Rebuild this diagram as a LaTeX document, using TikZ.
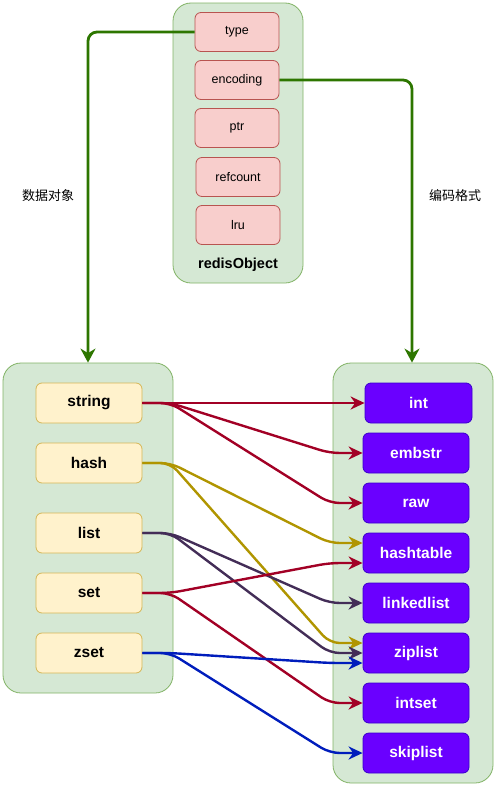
\documentclass[tikz,border=0pt]{standalone}
\usepackage{fontspec}
\setmainfont{Liberation Sans}
\newfontfamily\cjk{Noto Sans CJK SC}
\usetikzlibrary{arrows.meta}
\definecolor{contfill}{HTML}{D5E8D4}
\definecolor{contline}{HTML}{82B366}
\definecolor{pinkfill}{HTML}{F8CECC}
\definecolor{pinkline}{HTML}{B85450}
\definecolor{yelfill}{HTML}{FFF2CC}
\definecolor{yelline}{HTML}{D6B656}
\definecolor{purfill}{HTML}{6A00FF}
\definecolor{purline}{HTML}{3700CC}
\definecolor{cgreen}{HTML}{2D7600}
\definecolor{cred}{HTML}{A20025}
\definecolor{cyel}{HTML}{B09500}
\definecolor{cpur}{HTML}{432D57}
\definecolor{cblue}{HTML}{001DBC}
\begin{document}
\begin{tikzpicture}[x=1pt,y=-1pt,
  cont/.style={draw=contline, fill=contfill, rounded corners=18pt, line width=0.8pt, inner sep=0pt},
  field/.style={draw=pinkline, fill=pinkfill, rounded corners=6pt, line width=0.8pt, minimum width=84pt, minimum height=39pt, font=\fontsize{12.5}{14}\selectfont, inner sep=0pt},
  dtype/.style={draw=yelline, fill=yelfill, rounded corners=6pt, line width=0.8pt, minimum width=106pt, minimum height=40pt, font=\fontsize{15.5}{18}\selectfont\bfseries, inner sep=0pt},
  enc/.style={draw=purline, fill=purfill, text=white, rounded corners=6pt, line width=0.8pt, minimum width=106pt, minimum height=40pt, font=\fontsize{15.5}{18}\selectfont\bfseries, inner sep=0pt},
  bigarrow/.style={draw=cgreen, line width=2.8pt, rounded corners=9pt, -{Stealth[length=14pt,width=15pt,inset=4.5pt]}},
  link/.style={line width=2.4pt, rounded corners=10pt, -{Stealth[length=14pt,width=13pt,inset=4.5pt]}},
  lbl/.style={font=\cjk\fontsize{13}{15}\selectfont, inner sep=0pt}
]
\useasboundingbox (0,0) rectangle (497,787);
% containers
\node[cont, minimum width=130pt, minimum height=280pt] (ro) at (238,143) {};
\node[cont, minimum width=170pt, minimum height=330pt] (left) at (88,528) {};
\node[cont, minimum width=160pt, minimum height=420pt] (right) at (413,573) {};
\node[font=\fontsize{14.5}{17}\selectfont\bfseries, inner sep=0pt] (rolabel) at (238,265) {redisObject};
% fields
\node[field] (type) at (237,32) {type};
\node[field] (encoding) at (237,80) {encoding};
\node[field] (ptr) at (237,128) {ptr};
\node[field] (refcount) at (238,177) {refcount};
\node[field] (lru) at (238,225) {lru};
% data types
\node[dtype] (string) at (89,403) {string};
\node[dtype] (hash) at (89,463) {hash};
\node[dtype] (list) at (89,533) {list};
\node[dtype] (set) at (89,593) {set};
\node[dtype] (zset) at (89,653) {zset};
% encodings
\node[enc, minimum width=107pt] (int) at (418.5,403) {int};
\node[enc] (embstr) at (416,453) {embstr};
\node[enc] (raw) at (416,503) {raw};
\node[enc] (hashtable) at (416,553) {hashtable};
\node[enc] (linkedlist) at (416,603) {linkedlist};
\node[enc] (ziplist) at (416,653) {ziplist};
\node[enc] (intset) at (416,703) {intset};
\node[enc] (skiplist) at (416,753) {skiplist};
% labels
\node[lbl] (l1) at (48,196) {数据对象};
\node[lbl] (l2) at (455,196) {编码格式};
% big arrows
\coordinate (c1) at (88,32);
\coordinate (c2) at (412,80);
\draw[bigarrow] (type.west) -- (c1) -- (left.north -| c1);
\draw[bigarrow] (encoding.east) -- (c2) -- (right.north -| c2);
% links
\draw[link, cred] (string.east) -- (int.west);
\draw[link, cred] (string.east) -- ++(28,0) -- ([xshift=-33pt]embstr.west) -- (embstr.west);
\draw[link, cred] (string.east) -- ++(28,0) -- ([xshift=-33pt]raw.west) -- (raw.west);
\draw[link, cyel] (hash.east) -- ++(28,0) -- ([xshift=-33pt,yshift=10pt]hashtable.west) -- ([yshift=10pt]hashtable.west);
\draw[link, cyel] (hash.east) -- ++(28,0) -- ([xshift=-33pt,yshift=10pt]ziplist.west) -- ([yshift=10pt]ziplist.west);
\draw[link, cpur] (list.east) -- ++(28,0) -- ([xshift=-33pt]linkedlist.west) -- (linkedlist.west);
\draw[link, cpur] (list.east) -- ++(28,0) -- ([xshift=-33pt]ziplist.west) -- (ziplist.west);
\draw[link, cred] (set.east) -- ++(28,0) -- ([xshift=-33pt,yshift=-10pt]hashtable.west) -- ([yshift=-10pt]hashtable.west);
\draw[link, cred] (set.east) -- ++(28,0) -- ([xshift=-33pt]intset.west) -- (intset.west);
\draw[link, cblue] (zset.east) -- ++(28,0) -- ([xshift=-33pt,yshift=-10pt]ziplist.west) -- ([yshift=-10pt]ziplist.west);
\draw[link, cblue] (zset.east) -- ++(28,0) -- ([xshift=-33pt]skiplist.west) -- (skiplist.west);
\end{tikzpicture}
\end{document}
